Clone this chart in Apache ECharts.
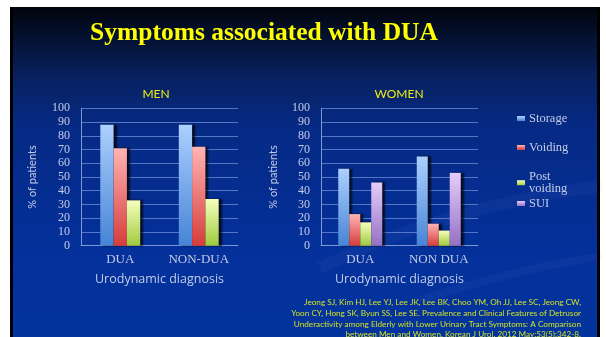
<!DOCTYPE html>
<html>
<head>
<meta charset="utf-8">
<script src="https://cdn.jsdelivr.net/npm/echarts@6/dist/echarts.min.js"></script>
<style>
  html, body { margin: 0; padding: 0; background: #ffffff; }
  #chart { width: 606px; height: 337px; }
</style>
</head>
<body>
<div id="chart"></div>
<script>
// Categories on each panel's x axis
const menCategories = ['DUA', 'NON-DUA'];
const womenCategories = ['DUA', 'NON DUA'];

// Percentage of patients reporting each symptom group
const menStorage = [88, 88];
const menVoiding = [71, 72];
const menPostVoiding = [33, 34];

const womenStorage = [56, 65];
const womenVoiding = [23, 16];
const womenPostVoiding = [17, 11];
const womenSUI = [46, 53];

const yTicks = { min: 0, max: 100, interval: 10 };

const citationLines = [
  'Jeong SJ, Kim HJ, Lee YJ, Lee JK, Lee BK, Choo YM, Oh JJ, Lee SC, Jeong CW,',
  'Yoon CY, Hong SK, Byun SS, Lee SE. Prevalence and Clinical Features of Detrusor',
  'Underactivity among Elderly with Lower Urinary Tract Symptoms: A Comparison',
  'between Men and Women. Korean J Urol. 2012 May;53(5):342-8.'
];

const SERIF = '"Liberation Serif", "DejaVu Serif", serif';
const SANS = '"Open Sans", "Noto Sans", sans-serif';
const NARROW = 'Lato, "Open Sans", sans-serif';
const LIGHT = '#c4cce6';

function grad(top, bottom) {
  return new echarts.graphic.LinearGradient(0, 0, 0, 1, [
    { offset: 0, color: top },
    { offset: 1, color: bottom }
  ]);
}
const fills = {
  'Storage': grad('#acd0ff', '#4784d6'),
  'Voiding': grad('#ffb4b4', '#d63c3c'),
  'Post voiding': grad('#f6ffbe', '#9fcb3e'),
  'SUI': grad('#e4ccfa', '#9770c6')
};
const legendColors = {
  'Storage': '#8ab8f4',
  'Voiding': '#ea6a6a',
  'Post voiding': '#d2f27a',
  'SUI': '#c4a6e6'
};

function barSeries(name, data, axis, width) {
  return {
    type: 'bar',
    name: name,
    data: data,
    xAxisIndex: axis,
    yAxisIndex: axis,
    barWidth: width,
    barGap: '0%',
    color: legendColors[name],
    itemStyle: {
      color: fills[name],
      shadowColor: 'rgba(0,0,0,0.75)',
      shadowBlur: 2,
      shadowOffsetX: 3,
      shadowOffsetY: 0
    }
  };
}

function xAxisFor(cats, grid) {
  return {
    type: 'category',
    gridIndex: grid,
    data: cats,
    axisTick: { show: false },
    axisLine: { lineStyle: { color: '#7f97d8', width: 1 } },
    axisLabel: { color: LIGHT, fontFamily: SERIF, fontSize: 13, margin: 7, interval: 0, hideOverlap: false },
    name: 'Urodynamic diagnosis',
    nameLocation: 'middle',
    nameGap: 27,
    nameTextStyle: { color: LIGHT, fontFamily: SANS, fontSize: 12.5 }
  };
}
function yAxisFor(grid, gap) {
  return {
    type: 'value',
    gridIndex: grid,
    min: yTicks.min, max: yTicks.max, interval: yTicks.interval,
    axisLine: { show: true, lineStyle: { color: '#7f97d8', width: 1 } },
    axisTick: { show: false },
    splitLine: { lineStyle: { color: '#5677c8', width: 1 } },
    axisLabel: { color: LIGHT, fontFamily: SERIF, fontSize: 12, margin: 11 },
    name: '% of patients',
    nameLocation: 'middle',
    nameRotate: 90,
    nameGap: gap,
    nameTextStyle: { color: LIGHT, fontFamily: NARROW, fontSize: 11 }
  };
}

function legendAt(name, top, extra) {
  return Object.assign({
    data: [name],
    orient: 'vertical',
    left: 517,
    top: top,
    padding: 0,
    itemWidth: 8,
    itemHeight: 5,
    icon: 'rect',
    selectedMode: false,
    textStyle: { color: LIGHT, fontFamily: SERIF, fontSize: 12.5, padding: [0, 0, 0, -1] }
  }, extra || {});
}

const chart = echarts.init(document.getElementById('chart'), null, { renderer: 'canvas' });

chart.setOption({
  animation: false,
  backgroundColor: '#ffffff',
  graphic: [
    {
      type: 'rect', z: -10, silent: true,
      shape: { x: 10, y: 7, width: 590, height: 340 },
      style: {
        fill: new echarts.graphic.LinearGradient(0, 0, 0, 1, [
          { offset: 0, color: '#02040c' },
          { offset: 0.08, color: '#04102c' },
          { offset: 0.2, color: '#08205e' },
          { offset: 0.35, color: '#062a84' },
          { offset: 0.7, color: '#04309a' },
          { offset: 1, color: '#03349e' }
        ])
      }
    },
    // faint swooshes across the lower right of the slide
    {
      type: 'bezierCurve', z: -9, silent: true,
      shape: { x1: 320, y1: 268, x2: 602, y2: 186, cpx1: 450, cpy1: 205 },
      style: { stroke: 'rgba(130,160,235,0.06)', lineWidth: 12, fill: null }
    },
    {
      type: 'bezierCurve', z: -9, silent: true,
      shape: { x1: 420, y1: 300, x2: 602, y2: 256, cpx1: 520, cpy1: 268 },
      style: { stroke: 'rgba(130,160,235,0.06)', lineWidth: 8, fill: null }
    },
    { type: 'rect', z: -8, silent: true, shape: { x: 10, y: 7, width: 3, height: 340 }, style: { fill: '#000000' } },
    { type: 'rect', z: -8, silent: true, shape: { x: 597, y: 7, width: 3, height: 340 }, style: { fill: '#000000' } },
    {
      type: 'text', silent: true,
      style: { x: 264, y: 33, text: 'Symptoms associated with DUA', fill: '#ffff00',
        font: 'bold 25.5px ' + SERIF, textAlign: 'center', textVerticalAlign: 'middle' }
    },
    {
      type: 'text', silent: true,
      style: { x: 156, y: 94, text: 'MEN', fill: '#eeee10', font: '12px ' + NARROW,
        textAlign: 'center', textVerticalAlign: 'middle' }
    },
    {
      type: 'text', silent: true,
      style: { x: 399, y: 94, text: 'WOMEN', fill: '#eeee10', font: '12px ' + NARROW,
        textAlign: 'center', textVerticalAlign: 'middle' }
    },
    {
      type: 'text', silent: true,
      style: { x: 581, y: 297.5, text: citationLines.join('\n'), fill: '#d2e028',
        font: '8.2px ' + NARROW, lineHeight: 10.6, textAlign: 'right', textVerticalAlign: 'top' }
    }
  ],
  legend: [
    legendAt('Storage', 112),
    legendAt('Voiding', 141),
    legendAt('Post voiding', 164, {
      formatter: 'Post\nvoiding',
      textStyle: { color: LIGHT, fontFamily: SERIF, fontSize: 12.5, lineHeight: 12.5, padding: [12.5, 0, 0, -1] }
    }),
    legendAt('SUI', 197)
  ],
  grid: [
    { left: 81, top: 108.3, width: 157, height: 137.4 },
    { left: 321, top: 108.3, width: 157, height: 137.4 }
  ],
  xAxis: [xAxisFor(menCategories, 0), xAxisFor(womenCategories, 1)],
  yAxis: [yAxisFor(0, 43), yAxisFor(1, 42)],
  series: [
    barSeries('Storage', menStorage, 0, 13.3),
    barSeries('Voiding', menVoiding, 0, 13.3),
    barSeries('Post voiding', menPostVoiding, 0, 13.3),
    barSeries('Storage', womenStorage, 1, 11),
    barSeries('Voiding', womenVoiding, 1, 11),
    barSeries('Post voiding', womenPostVoiding, 1, 11),
    barSeries('SUI', womenSUI, 1, 11)
  ]
});
</script>
</body>
</html>
